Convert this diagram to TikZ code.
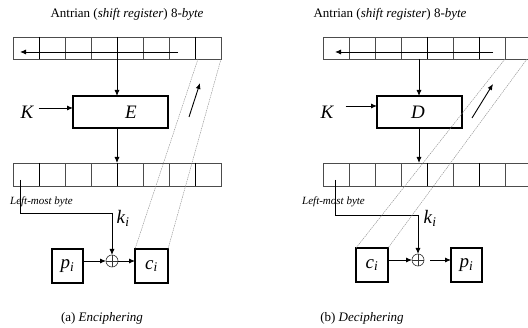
\documentclass[tikz,border=0pt]{standalone}
\usepackage{fontspec}
\setmainfont{Liberation Serif}
\usetikzlibrary{arrows.meta}

\begin{document}
\begin{tikzpicture}[x=1pt,y=-1pt,
  cell/.style={draw=black!70, line width=0.6pt, minimum width=26pt, minimum height=22pt,
    inner sep=0pt, outer sep=0pt},
  blk/.style={draw=black, line width=1.4pt, inner sep=0pt, outer sep=0pt},
  sep/.style={draw=black, line width=1pt},
  conn/.style={line width=0.9pt, -{Latex[length=6pt,width=5pt]}},
  wire/.style={line width=0.9pt},
  guide/.style={draw=black!45, line width=0.4pt, dash pattern=on 1.5pt off 0.8pt},
  xorop/.style={circle, draw=black!80, line width=0.6pt, minimum size=12pt, inner sep=0pt,
    outer sep=0pt, path picture={
      \draw[black!80, line width=0.6pt] (path picture bounding box.north) -- (path picture bounding box.south)
        (path picture bounding box.west) -- (path picture bounding box.east);}},
  ttl/.style={font=\fontsize{13}{15}\selectfont, inner sep=0pt},
  big/.style={font=\fontsize{19}{21}\selectfont\itshape, inner sep=0pt},
  sml/.style={font=\fontsize{11}{13}\selectfont\itshape, inner sep=0pt}]

\useasboundingbox[fill=white] (0,0) rectangle (528,328);

% ---------------- (a) Enciphering ----------------
\node[ttl] (ta) at (127,14) {Antrian (\textit{shift register}) 8-\textit{byte}};
\foreach \i in {1,...,8} {
  \node[cell] (au\i) at ({13+26*(\i-0.5)},48) {};
  \node[cell, minimum height=23pt] (al\i) at ({13+26*(\i-0.5)},174.5) {};
}
\foreach \i in {1,4,7} {
  \draw[sep] (au\i.north east) -- (au\i.south east);
  \draw[sep] (al\i.north east) -- (al\i.south east);
}
\coordinate (aS) at (178,52);
\coordinate (aT) at (20,52);
\draw[conn] (aS) -- (aT);

\node[blk, minimum width=95pt, minimum height=32pt] (E) at (120.5,112) {};
\node[big] (Elab) at (131,112) {E};
\node[big] (aK) at (27,112) {K};
\draw[conn] (aK.east) ++(5,-4) coordinate (aKs) -- (aKs -| E.west);
\draw[conn] (au4.south east) -- (au4.south east |- E.north);
\draw[conn] (au4.south east |- E.south) -- (al4.north east);

\node[blk, minimum width=31pt, minimum height=34pt] (ap) at (67.5,266) {\fontsize{19}{21}\selectfont\textit{p}\textsubscript{\textit{i}}};
\node[blk, minimum width=33pt, minimum height=34pt] (ac) at (151.5,266) {\fontsize{19}{21}\selectfont\textit{c}\textsubscript{\textit{i}}};
\node[xorop] (ax) at (112,261) {};
\draw[conn] (ap.east |- ax) -- (ax.west);
\draw[conn] (ax.east) -- (ac.west |- ax);

\coordinate (aL) at (20,180);
\coordinate (aC) at (20,213);
\draw[wire] (aL) -- (aC) -- (ax.north |- aC);
\draw[conn] (ax.north |- aC) -- (ax.north);
\node[sml, anchor=east] (alm) at (73,202) {Left-most byte};
\node[font=\fontsize{19}{21}\selectfont, inner sep=0pt] (aki) at (123,218) {\textit{k}\textsubscript{\textit{i}}};

\draw[guide] (au8.south west) ++(3,0) -- (ac.north west);
\draw[guide] (au8.south east) -- (ac.north east);
\coordinate (aUs) at (189,117);
\coordinate (aUe) at (200,83);
\draw[conn] (aUs) -- (aUe);

\node[ttl] (acap) at (102,318) {(a) \textit{Enciphering}};

% ---------------- (b) Deciphering ----------------
\node[ttl] (tb) at (390,14) {Antrian (\textit{shift register}) 8-\textit{byte}};
\foreach \i in {1,...,8} {
  \node[cell] (bu\i) at ({323+26*(\i-0.5)},48) {};
  \node[cell, minimum height=23pt] (bl\i) at ({323+26*(\i-0.5)},174.5) {};
}
\foreach \i in {4,6} {
  \draw[sep] (bu\i.north east) -- (bu\i.south east);
  \draw[sep] (bl\i.north east) -- (bl\i.south east);
}
\coordinate (bS) at (493,52);
\coordinate (bT) at (335,52);
\draw[conn] (bS) -- (bT);

\node[blk, minimum width=85pt, minimum height=32pt] (D) at (419.5,112) {};
\node[big] (Dlab) at (418,112) {D};
\node[big] (bK) at (327,112) {K};
\draw[conn] (bK.east) ++(12,-6) coordinate (bKs) -- (bKs -| D.west);
\draw[conn] (419,59) coordinate (bA) -- (bA |- D.north);
\draw[conn] (bA |- D.south) -- (bA |- bl4.north);

\node[blk, minimum width=32pt, minimum height=34pt] (bc) at (372,265) {\fontsize{19}{21}\selectfont\textit{c}\textsubscript{\textit{i}}};
\node[blk, minimum width=31pt, minimum height=34pt] (bp) at (466.5,265) {\fontsize{19}{21}\selectfont\textit{p}\textsubscript{\textit{i}}};
\node[xorop] (bx) at (418,260) {};
\draw[conn] (bc.east |- bx) -- (bx.west);
\draw[conn] (bx.east) ++(6,0) coordinate (bxo) -- (bp.west |- bx);

\coordinate (bL) at (335,180);
\coordinate (bC) at (335,215);
\draw[wire] (bL) -- (bC) -- (bx.north |- bC);
\draw[conn] (bx.north |- bC) -- (bx.north);
\node[sml, anchor=west] (blm) at (302,202) {Left-most byte};
\node[font=\fontsize{19}{21}\selectfont, inner sep=0pt] (bki) at (430,218) {\textit{k}\textsubscript{\textit{i}}};

\draw[guide] (bu8.south west) -- (bc.north west);
\draw[guide] (bu8.south east) ++(-4,0) -- (bc.north east);
\coordinate (bUs) at (472,118);
\coordinate (bUe) at (493,84);
\draw[conn] (bUs) -- (bUe);

\node[ttl] (bcap) at (362,318) {(b) \textit{Deciphering}};
\end{tikzpicture}
\end{document}
